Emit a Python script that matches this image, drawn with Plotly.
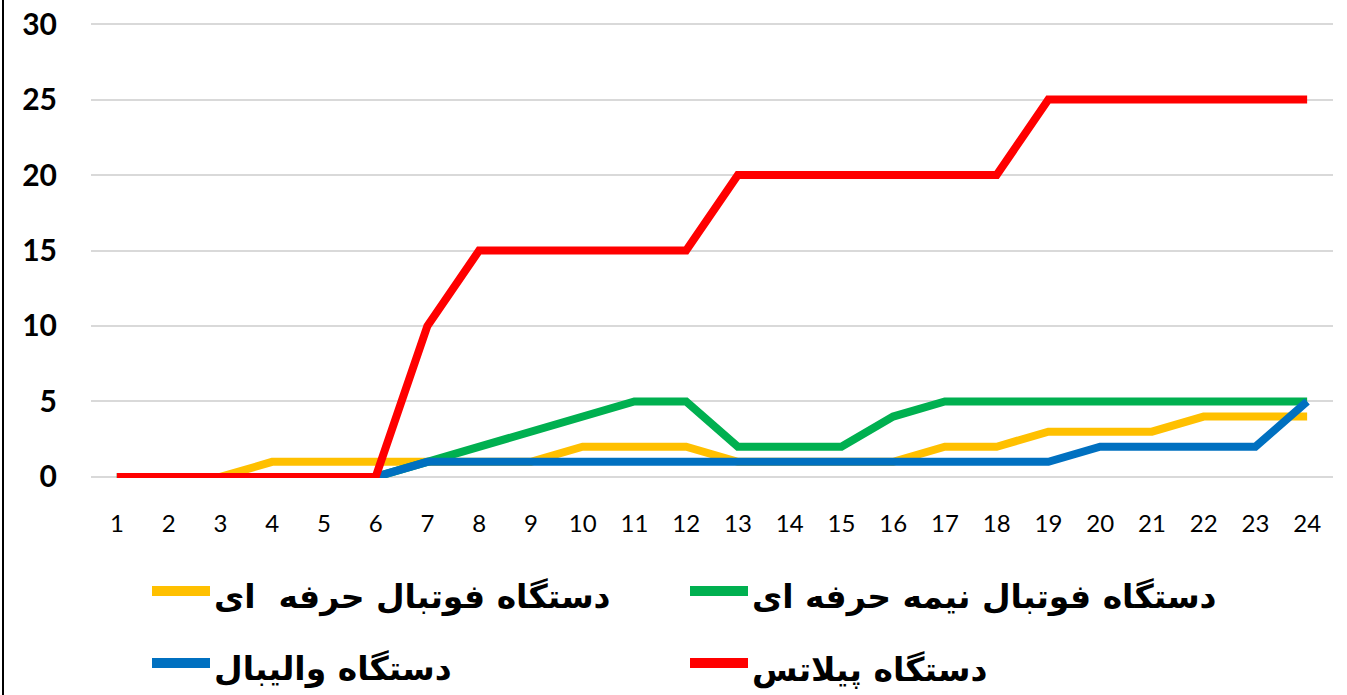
import plotly.graph_objects as go

days = list(range(1, 25))
tick_labels = [str(d) for d in days]

names = [
    "دستگاه فوتبال حرفه  ای",
    "دستگاه فوتبال نیمه حرفه ای",
    "دستگاه والیبال",
    "دستگاه پیلاتس",
]
football_pro = [0, 0, 0, 1, 1, 1, 1, 1, 1, 2, 2, 2, 1, 1, 1, 1, 2, 2, 3, 3, 3, 4, 4, 4]
football_semi = [0, 0, 0, 0, 0, 0, 1, 2, 3, 4, 5, 5, 2, 2, 2, 4, 5, 5, 5, 5, 5, 5, 5, 5]
volleyball = [0, 0, 0, 0, 0, 0, 1, 1, 1, 1, 1, 1, 1, 1, 1, 1, 1, 1, 1, 2, 2, 2, 2, 5]
pilates = [0, 0, 0, 0, 0, 0, 10, 15, 15, 15, 15, 15, 20, 20, 20, 20, 20, 20, 25, 25, 25, 25, 25, 25]
colors = ["#FFC000", "#00B050", "#0070C0", "#FF0000"]
series = [football_pro, football_semi, volleyball, pilates]
y_ticks = [0, 5, 10, 15, 20, 25, 30]

W, H = 1347, 695
ml, mr, mt, mb = 91, 14, 23, 217
pw, ph = W - ml - mr, H - mt - mb


def px(x):
    return (x - ml) / pw


def py(y):
    return (H - mb - y) / ph


fig = go.Figure()
for name, vals, col in zip(names, series, colors):
    fig.add_trace(go.Scatter(
        x=days, y=vals, mode="lines", name=name, showlegend=False,
        line=dict(color=col, width=8),
    ))

fig.update_layout(
    width=W, height=H,
    margin=dict(l=ml, r=mr, t=mt, b=mb, autoexpand=False),
    paper_bgcolor="white", plot_bgcolor="white",
    xaxis=dict(
        range=[0.5, 24.5], tickmode="array", tickvals=days, ticktext=tick_labels,
        showgrid=False, zeroline=False, showline=False, ticks="",
        tickfont=dict(family="Lato, sans-serif", size=24, color="#000"),
        ticklabelstandoff=29,
    ),
    yaxis=dict(
        range=[-0.07, 30.07], tickvals=y_ticks,
        showgrid=True, gridcolor="#D9D9D9", gridwidth=2, zeroline=False, showline=False,
        tickfont=dict(family="Lato, sans-serif", size=30, color="#000", weight="bold"),
        ticklabelstandoff=33,
    ),
    showlegend=False,
)

# manual legend (2 x 2), in order of the traces
legend_pos = [(152, 591), (690, 591), (152, 663), (690, 663)]
for name, col, (lx, ly) in zip(names, colors, legend_pos):
    fig.add_shape(type="line", xref="paper", yref="paper",
                  x0=px(lx), x1=px(lx + 58), y0=py(ly), y1=py(ly),
                  line=dict(color=col, width=10))
    fig.add_annotation(xref="paper", yref="paper", x=px(lx + 60), y=py(ly + 6),
                       xanchor="left", yanchor="middle", showarrow=False,
                       text=name,
                       font=dict(family="DejaVu Sans, sans-serif", size=33,
                                 color="#000", weight="bold"))

# outer left border line
fig.add_shape(type="line", xref="paper", yref="paper",
              x0=px(3), x1=px(3), y0=py(H), y1=py(0),
              line=dict(color="#000", width=2))

fig.write_html("out.html", config={"displayModeBar": False},
               post_script="document.body.style.margin='0';document.body.style.overflow='hidden';")
